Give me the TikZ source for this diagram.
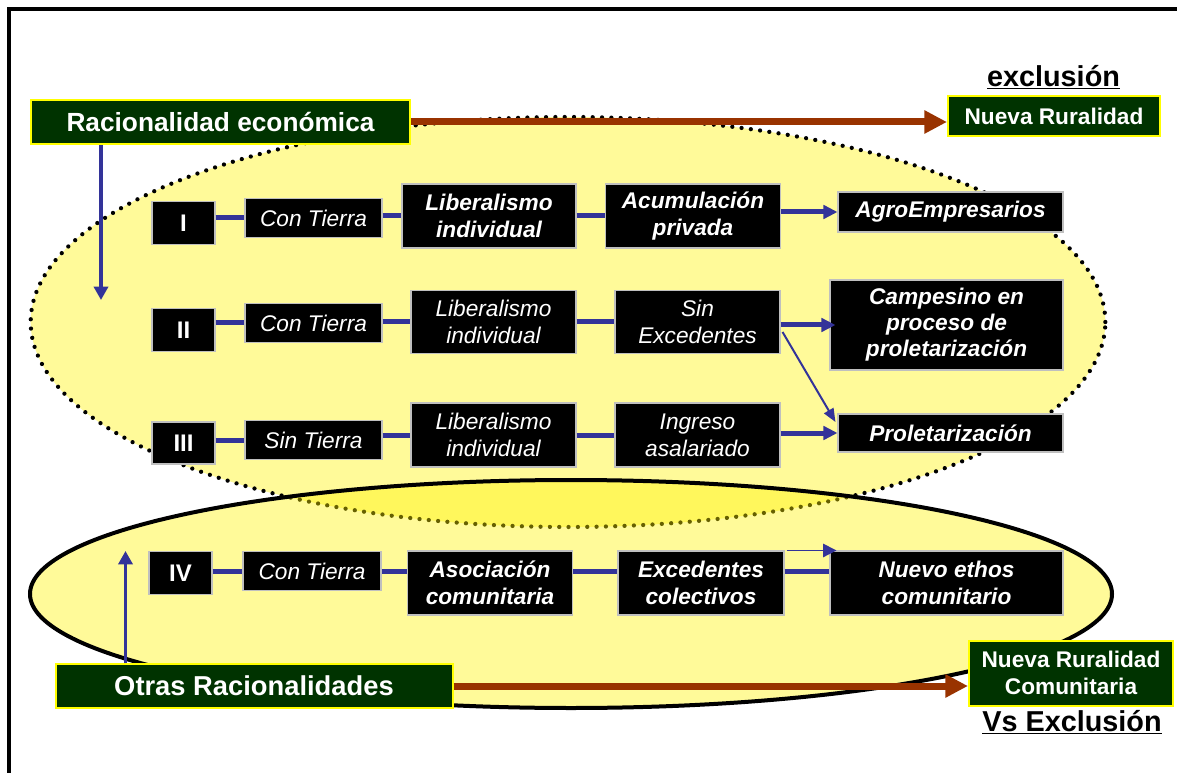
\documentclass[tikz,border=0pt]{standalone}
\usepackage{fontspec}
\setmainfont{Liberation Sans}
\usetikzlibrary{arrows.meta,calc}
\definecolor{dkgreen}{HTML}{003300}
\definecolor{brownr}{HTML}{993300}
\definecolor{blu}{HTML}{333399}
\definecolor{ylw}{HTML}{FFFF00}
\begin{document}
\begin{tikzpicture}[x=0.75pt,y=-0.75pt,
  sz/.style 2 args={minimum width=#1*0.75pt, minimum height=#2*0.75pt},
  blk/.style={fill=black, draw=white!75!black, line width=0.8pt, text=white, inner sep=0pt, align=center},
  bi/.style={blk, font=\fontsize{17}{20}\selectfont\bfseries\itshape},
  it/.style={blk, font=\fontsize{17}{20}\selectfont\itshape},
  num/.style={blk, font=\fontsize{18}{20}\selectfont\bfseries},
  grn/.style={fill=dkgreen, draw=ylw, line width=1.5pt, text=white, inner sep=0pt, align=center},
  link/.style={draw=blu, line width=3.75pt},
  arr/.style={link, -{Triangle[length=10.5pt,width=10pt]}},
  brn/.style={draw=brownr, line width=5.25pt, -{Triangle[length=17pt,width=16.5pt]}},
  varr/.style={draw=blu, line width=2.9pt, -{Triangle[length=10pt,width=10.5pt]}},
  lab/.style={inner sep=0pt, font=\fontsize{21.6}{24}\selectfont\bfseries}
]
\useasboundingbox (0,0) rectangle (1177,773);
% frame
\draw[line width=2.6pt] (9,773) -- (9,9) -- (1177,9);

% ellipses
\fill[yellow, fill opacity=0.4] (568,322) ellipse [x radius=403pt, y radius=153.75pt];
\draw[line width=3.2pt, dash pattern=on 0pt off 7pt, line cap=round] (568,322) ellipse [x radius=403pt, y radius=153.75pt];
\filldraw[fill=yellow, fill opacity=0.4, draw=black, line width=3pt] (571,594) ellipse [x radius=405.75pt, y radius=85.5pt];

% green boxes and labels
\node[grn, sz={379}{44}, font=\fontsize{19.7}{22}\selectfont\bfseries] (rac) at (220.5,122) {Racionalidad económica};
\node[grn, sz={212}{40}, font=\fontsize{17}{20}\selectfont\bfseries] (nr) at (1054,116) {Nueva Ruralidad};
\node[grn, sz={397}{44}, font=\fontsize{20.5}{22}\selectfont\bfseries] (otr) at (254,686) {Otras Racionalidades};
\node[grn, sz={204}{65}, font=\fontsize{17}{20}\selectfont\bfseries] (nrc) at (1071,673) {Nueva Ruralidad\\Comunitaria};
\node[lab] (ex) at (1053.5,77) {\underline{exclusión}};
\node[lab] (vs) at (1072,722) {\underline{Vs Exclusión}};

% row I
\node[num, sz={63}{43}] (r1) at (183.5,223) {I};
\node[it, sz={137}{39}] (c1) at (313.5,218) {Con Tierra};
\node[bi, sz={174}{64}] (l1) at (489,216) {Liberalismo\\individual};
\node[bi, sz={175}{64}] (a1) at (693,216) {Acumulación\\privada};
\node[bi, sz={225}{40}] (o1) at (950.5,212) {AgroEmpresarios};

% row II
\node[num, sz={63}{43}] (r2) at (183.5,330) {II};
\node[it, sz={137}{39}] (c2) at (313.5,323) {Con Tierra};
\node[it, sz={165}{63}] (l2) at (493.5,322) {Liberalismo\\individual};
\node[it, sz={165}{63}] (s2) at (697.5,322) {Sin\\Excedentes};
\node[bi, sz={233}{90}, font=\fontsize{17}{19.5}\selectfont\bfseries\itshape] (o2) at (946.5,325) {Campesino en\\proceso de\\proletarización};

% row III
\node[num, sz={63}{42}] (r3) at (183.5,443) {III};
\node[it, sz={137}{39}] (c3) at (313.5,440) {Sin Tierra};
\node[it, sz={165}{64}] (l3) at (493.5,435) {Liberalismo\\individual};
\node[it, sz={165}{64}] (s3) at (697.5,435) {Ingreso\\asalariado};
\node[bi, sz={225}{38}] (o3) at (950.5,433) {Proletarización};

% row IV
\node[num, sz={63}{43}] (r4) at (180.5,573) {IV};
\node[it, sz={138}{39}] (c4) at (312,571) {Con Tierra};
\node[bi, sz={165}{64}] (l4) at (490,583) {Asociación\\comunitaria};
\node[bi, sz={166}{64}] (s4) at (701,583) {Excedentes\\colectivos};
\node[bi, sz={233}{64}] (o4) at (946.5,583) {Nuevo ethos\\comunitario};

% connectors row I
\draw[link] (r1.east |- c1.west) -- (c1.west);
\draw[link] (c1.east |- l1.west) -- (l1.west);
\draw[link] (l1.east |- a1.west) -- (a1.west);
\draw[arr] (a1.east |- o1.west) -- (o1.west);
% row II
\draw[link] (r2.east |- c2.west) -- (c2.west);
\draw[link] (c2.east |- l2.west) -- (l2.west);
\draw[link] (l2.east |- s2.west) -- (s2.west);
\draw[arr] (s2.east |- o2.west) -- ($(o2.west)+(6,0)$);
\draw[draw=blu, line width=1.5pt, -{Triangle[length=10pt,width=8pt]}] ($(s2.east)+(2,10)$) -- ($(o3.west)+(-2,-11)$);
% row III
\draw[link] (r3.east |- c3.west) -- (c3.west);
\draw[link] (c3.east |- l3.west) -- (l3.west);
\draw[link] (l3.east |- s3.west) -- (s3.west);
\draw[arr] (s3.east |- o3.west) -- (o3.west);
% row IV
\draw[link] (r4.east |- c4.west) -- (c4.west);
\draw[link] (c4.east) -- (c4.east -| l4.west);
\draw[link] (l4.east |- c4.east) -- (c4.east -| s4.west);
\draw[link] (s4.east |- c4.east) -- (c4.east -| o4.west);
\draw[draw=blu, line width=1.2pt, -{Triangle[length=10pt,width=10pt]}] ($(s4.north east)+(2,0)$) -- ($(o4.north west)+(7,0)$);

% vertical arrows
\coordinate (dn) at (101,300);
\coordinate (up) at (125.5,551);
\draw[varr] (rac.south -| dn) -- (dn);
\draw[varr] (otr.north -| up) -- (up);

% brown arrows
\draw[brn] (rac.east) -- (rac.east -| nr.west);
\draw[brn] (otr.east) -- (otr.east -| nrc.west);
\end{tikzpicture}
\end{document}
